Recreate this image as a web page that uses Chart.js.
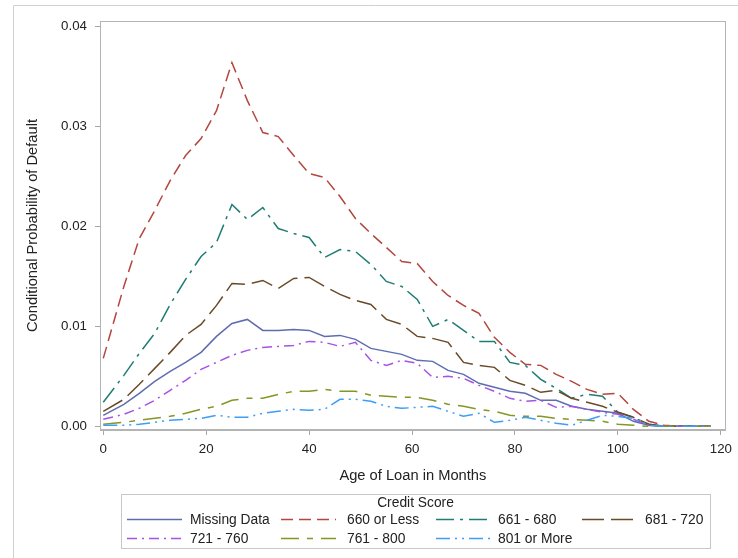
<!DOCTYPE html>
<html><head><meta charset="utf-8">
<script src="https://cdn.jsdelivr.net/npm/chart.js@4.4.1/dist/chart.umd.min.js"></script>
<style>html,body{margin:0;padding:0;background:#fff}#c{display:block}</style>
</head><body>
<canvas id="c" width="738" height="558"></canvas>
<script>
// ---- data ----
const months = [0,4,7,10,13,16,19,22,25,28,31,34,37,40,43,46,49,52,55,58,61,64,67,70,73,76,79,82,85,88,91,94,97,100,103,106,109,112,115,118];
const seriesLabels = ['Missing Data','660 or Less','661 - 680','681 - 720','721 - 760','761 - 800','801 or More'];
const missingData = [0.0011,0.0022,0.0033,0.0045,0.0055,0.0064,0.0074,0.0090,0.0103,0.0107,0.0096,0.0096,0.0097,0.0096,0.0090,0.0091,0.0087,0.0078,0.0075,0.0072,0.0066,0.0065,0.0056,0.0052,0.0043,0.0039,0.0035,0.0033,0.0026,0.0026,0.0020,0.0017,0.0015,0.0013,0.0005,0.0001,0,0,0,0];
const score660OrLess = [0.0068,0.0140,0.0188,0.0216,0.0246,0.0271,0.0288,0.0316,0.0364,0.0326,0.0294,0.0290,0.0271,0.0253,0.0249,0.0230,0.0208,0.0193,0.0179,0.0165,0.0163,0.0145,0.0131,0.0121,0.0113,0.0089,0.0074,0.0062,0.0061,0.0052,0.0045,0.0037,0.0032,0.0033,0.0017,0.0005,0.0001,0,0,0];
const score661to680 = [0.0024,0.0051,0.0073,0.0093,0.0122,0.0147,0.0170,0.0184,0.0222,0.0207,0.0219,0.0198,0.0193,0.0189,0.0169,0.0177,0.0175,0.0162,0.0145,0.0140,0.0127,0.0100,0.0107,0.0096,0.0085,0.0085,0.0064,0.0061,0.0047,0.0038,0.0028,0.0032,0.0030,0.0014,0.0009,0.0002,0,0,0,0];
const score681to720 = [0.0015,0.0027,0.0042,0.0058,0.0074,0.0091,0.0102,0.0121,0.0143,0.0142,0.0146,0.0138,0.0148,0.0149,0.0140,0.0132,0.0126,0.0122,0.0107,0.0102,0.0090,0.0088,0.0084,0.0064,0.0061,0.0059,0.0046,0.0041,0.0034,0.0036,0.0028,0.0024,0.0020,0.0014,0.0009,0.0002,0,0,0,0];
const score721to760 = [0.0007,0.0012,0.0018,0.0026,0.0036,0.0046,0.0057,0.0064,0.0071,0.0076,0.0079,0.0080,0.0081,0.0085,0.0084,0.0080,0.0084,0.0066,0.0061,0.0066,0.0063,0.0049,0.0050,0.0048,0.0041,0.0035,0.0028,0.0025,0.0026,0.0019,0.0020,0.0017,0.0014,0.0012,0.0007,0.0001,0,0,0,0];
const score761to800 = [0.0002,0.0004,0.0006,0.0008,0.0010,0.0013,0.0017,0.0020,0.0026,0.0028,0.0028,0.0032,0.0035,0.0035,0.0037,0.0035,0.0035,0.0031,0.0030,0.0029,0.0029,0.0026,0.0022,0.0020,0.0017,0.0015,0.0011,0.0010,0.0010,0.0008,0.0007,0.0006,0.0005,0.0002,0.0001,0,0,0,0,0];
const score801OrMore = [0.0001,0.0001,0.0002,0.0004,0.0006,0.0007,0.0008,0.0011,0.0009,0.0009,0.0013,0.0015,0.0017,0.0016,0.0017,0.0027,0.0027,0.0025,0.0020,0.0018,0.0019,0.0020,0.0015,0.0010,0.0013,0.0004,0.0006,0.0009,0.0006,0.0003,0.0001,0.0006,0.0011,0.0010,0.0008,0.0001,0,0,0,0];
const xTicks = [0,20,40,60,80,100,120];
const yTicks = [0,0.01,0.02,0.03,0.04];
const xTitle = 'Age of Loan in Months';
const yTitle = 'Conditional Probability of Default';
const legendTitle = 'Credit Score';

// ---- styles ----
const FONT = '"Liberation Sans", Arial, sans-serif';
const seriesValues = [missingData, score660OrLess, score661to680, score681to720, score721to760, score761to800, score801OrMore];
const colors = ['#5E6DB0','#B5463E','#1F7D74','#6B4A28','#A652E6','#849624','#3E9EF5'];
const dashes = [[], [12,6], [18,6,3,6], [22,7], [10,5,2,5], [18,8,6,8], [14,5,2,5,2,5]];

const datasets = seriesLabels.map((lab, i) => ({
  label: lab,
  data: months.map((m, j) => ({x: m, y: seriesValues[i][j]})),
  borderColor: colors[i],
  backgroundColor: colors[i],
  borderDash: dashes[i],
  borderWidth: 1.5,
  pointRadius: 0,
  tension: 0,
  fill: false,
  order: seriesLabels.length - 1 - i
}));

const outerBorder = {
  id: 'outerBorder',
  beforeDraw(chart) {
    const ctx = chart.ctx;
    ctx.save();
    ctx.strokeStyle = '#d0d0d0';
    ctx.lineWidth = 1;
    ctx.beginPath();
    ctx.moveTo(13.5, 558);
    ctx.lineTo(13.5, 5.5);
    ctx.lineTo(738, 5.5);
    ctx.stroke();
    ctx.restore();
  }
};

const frame = {
  id: 'frame',
  afterDraw(chart) {
    const {ctx, chartArea: a} = chart;
    ctx.save();
    ctx.strokeStyle = '#b4b4b4';
    ctx.lineWidth = 1;
    ctx.setLineDash([]);
    ctx.strokeRect(Math.round(a.left) + 0.5, Math.round(a.top) + 0.5, Math.round(a.right - a.left) - 1, Math.round(a.bottom - a.top) - 1);
    ctx.restore();
  }
};

const customLegend = {
  id: 'customLegend',
  afterDraw(chart) {
    const ctx = chart.ctx;
    const box = {l: 121, t: 494, r: 710, b: 548};
    const cols = [{line: 127, text: 190}, {line: 281, text: 347}, {line: 436, text: 498}, {line: 582, text: 645}];
    const rows = [519, 538];
    const lineLen = 55;
    ctx.save();
    ctx.strokeStyle = '#c8c8c8';
    ctx.lineWidth = 1;
    ctx.strokeRect(box.l + 0.5, box.t + 0.5, box.r - box.l, box.b - box.t);
    ctx.fillStyle = '#222';
    ctx.font = '13.8px ' + FONT;
    ctx.textBaseline = 'middle';
    ctx.textAlign = 'center';
    ctx.fillText(legendTitle, (box.l + box.r) / 2, 503);
    ctx.textAlign = 'left';
    chart.data.datasets.forEach((ds, i) => {
      const r = i < 4 ? 0 : 1;
      const c = i < 4 ? i : i - 4;
      const y = rows[r];
      const x0 = cols[c].line;
      ctx.strokeStyle = ds.borderColor;
      ctx.lineWidth = 1.5;
      ctx.setLineDash(ds.borderDash || []);
      ctx.lineDashOffset = 0;
      ctx.beginPath();
      ctx.moveTo(x0, y + 0.5);
      ctx.lineTo(x0 + lineLen, y + 0.5);
      ctx.stroke();
      ctx.setLineDash([]);
      ctx.fillStyle = '#222';
      ctx.fillText(ds.label, cols[c].text, y + 1);
    });
    ctx.restore();
  }
};

new Chart(document.getElementById('c'), {
  type: 'line',
  data: {datasets},
  plugins: [outerBorder, frame, customLegend],
  options: {
    responsive: false,
    animation: false,
    devicePixelRatio: 1,
    layout: {padding: {left: 0, top: 21, right: 7, bottom: 70}},
    plugins: {legend: {display: false}, tooltip: {enabled: false}, title: {display: false}},
    scales: {
      x: {
        type: 'linear', min: -0.636, max: 120.96,
        afterBuildTicks: s => { s.ticks = xTicks.map(v => ({value: v})); },
        afterFit: s => { s.height = 58; },
        grid: {display: true, drawOnChartArea: false, drawTicks: true, tickLength: 5, color: '#a8a8a8'},
        border: {display: true, color: '#b4b4b4'},
        ticks: {font: {family: FONT, size: 13.3}, color: '#222', padding: 6, maxRotation: 0, autoSkip: false, callback: v => String(v)},
        title: {display: true, text: xTitle, font: {family: FONT, size: 14.7}, color: '#222', padding: {top: 0, bottom: 3}}
      },
      y: {
        type: 'linear', min: -0.00037, max: 0.04057,
        afterBuildTicks: s => { s.ticks = yTicks.map(v => ({value: v})); },
        afterFit: s => { s.width = 100; },
        grid: {display: true, drawOnChartArea: false, drawTicks: true, tickLength: 5, color: '#a8a8a8'},
        border: {display: true, color: '#b4b4b4'},
        ticks: {font: {family: FONT, size: 13.3}, color: '#222', padding: 8, autoSkip: false, callback: v => Number(v).toFixed(2)},
        title: {display: true, text: yTitle, font: {family: FONT, size: 14.7}, color: '#222', padding: {top: 24, bottom: 0}}
      }
    }
  }
});
</script>
</body></html>
